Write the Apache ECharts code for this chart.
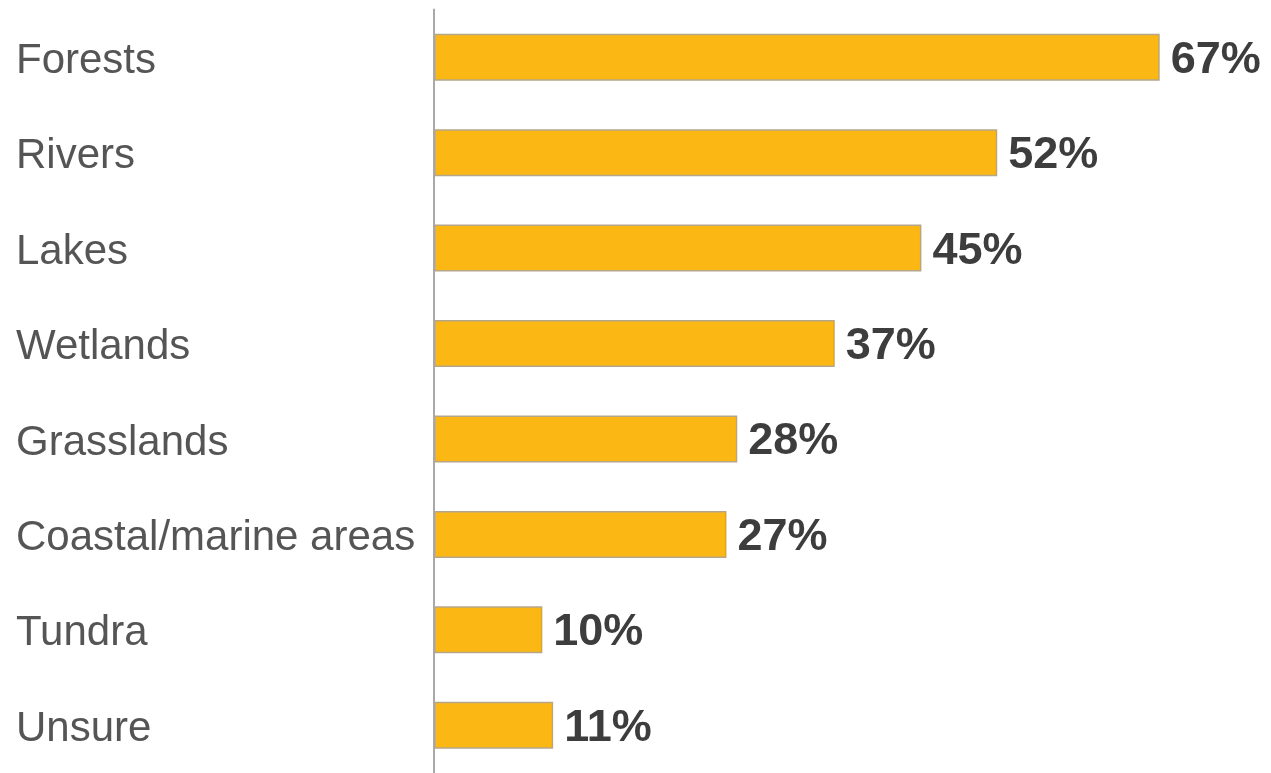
<!DOCTYPE html>
<html>
<head>
<meta charset="utf-8">
<style>
  html, body { margin: 0; padding: 0; background: #ffffff; }
  #chart { width: 1271px; height: 773px; }
</style>
<script src="https://cdn.jsdelivr.net/npm/echarts@6/dist/echarts.min.js"></script>
</head>
<body>
<div id="chart"></div>
<script>
// Share of respondents naming each ecosystem
const categories = ['Forests', 'Rivers', 'Lakes', 'Wetlands', 'Grasslands', 'Coastal/marine areas', 'Tundra', 'Unsure'];
const values = [67, 52, 45, 37, 28, 27, 10, 11];

const chart = echarts.init(document.getElementById('chart'), null, { renderer: 'canvas' });

chart.setOption({
  animation: false,
  backgroundColor: '#ffffff',
  grid: { left: 434, right: 3, top: 9.5, bottom: -4.5, containLabel: false },
  xAxis: {
    type: 'value',
    min: 0,
    max: 77,
    show: false
  },
  yAxis: {
    type: 'category',
    data: categories,
    inverse: true,
    axisLine: { show: true, lineStyle: { color: '#a9a9a9', width: 2 } },
    axisTick: { show: false },
    axisLabel: {
      align: 'left',
      margin: 418,
      formatter: function (name) { return '{n|' + name + '}'; },
      rich: {
        n: {
          color: '#555555',
          fontFamily: 'Liberation Sans, Arial, sans-serif',
          fontSize: 42,
          padding: [8, 0, 0, 0]
        }
      }
    }
  },
  series: [{
    type: 'bar',
    data: values,
    barWidth: 47,
    itemStyle: {
      color: '#fbb814',
      borderColor: '#b5a68a',
      borderWidth: 1.5
    },
    label: {
      show: true,
      position: 'right',
      distance: 11,
      offset: [0, 3],
      formatter: '{c}%',
      color: '#3d3d3d',
      fontWeight: 'bold',
      fontFamily: 'Liberation Sans, Arial, sans-serif',
      fontSize: 45
    }
  }]
});
</script>
</body>
</html>
